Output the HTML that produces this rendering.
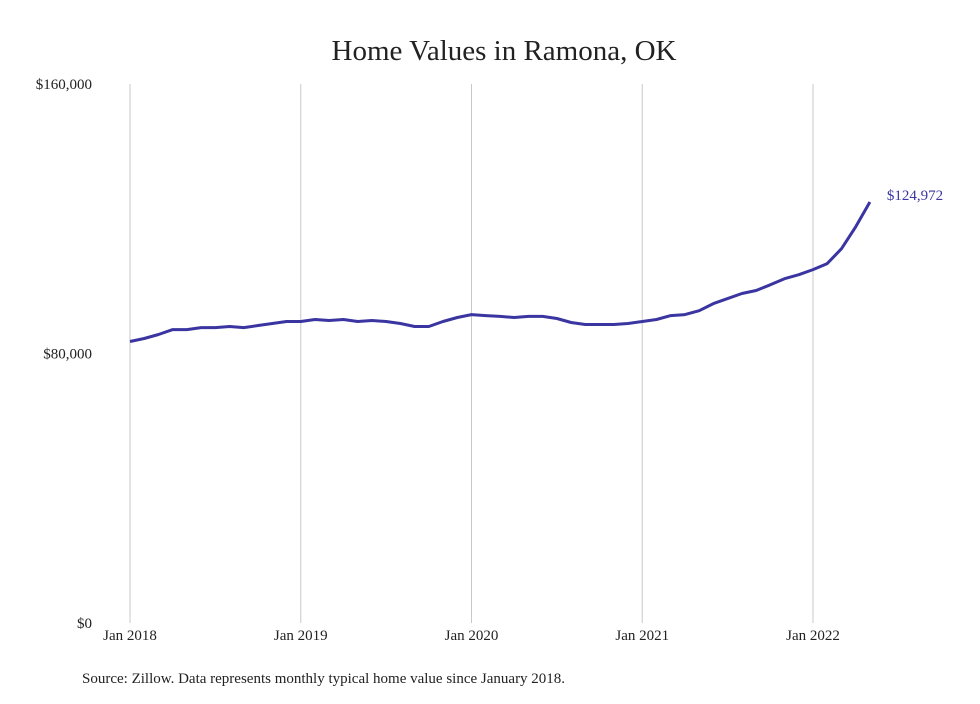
<!DOCTYPE html>
<html><head><meta charset="utf-8"><style>
html,body{margin:0;padding:0;background:#fff;}
body{width:980px;height:699px;overflow:hidden;font-family:"Liberation Serif",serif;}
</style></head><body>
<svg width="980" height="699" xmlns="http://www.w3.org/2000/svg">
<text x="504" y="60" text-anchor="middle" font-size="29" fill="#222" font-family="Liberation Serif, serif">Home Values in Ramona, OK</text>
<g id="grid"></g>
<g id="yt"></g>
<g id="xt"></g>
<path id="line" fill="none" stroke="#3a35a0" stroke-width="3" stroke-linejoin="round"/>
<text id="endlbl" font-size="15" fill="#3a35a0" font-family="Liberation Serif, serif"></text>
<text x="82" y="683" font-size="15" fill="#222" font-family="Liberation Serif, serif">Source: Zillow. Data represents monthly typical home value since January 2018.</text>
</svg>
<script>
const values=[83556,84444,85630,87100,87100,87700,87700,88000,87700,88300,88900,89500,89500,90100,89800,90100,89500,89800,89500,88900,88000,88000,89500,90700,91550,91250,91000,90700,91000,91000,90400,89200,88600,88600,88600,88900,89500,90100,91250,91550,92700,94800,96300,97800,98700,100400,102200,103400,104900,106700,111100,117600,124972];
const yTicks=[0,80000,160000];
const yTickLabels=["$0","$80,000","$160,000"];
const xTickMonths=[0,12,24,36,48];
const xTickLabels=["Jan 2018","Jan 2019","Jan 2020","Jan 2021","Jan 2022"];
const NS="http://www.w3.org/2000/svg";
const x=m=>130+m*(170.75/12);
const y=v=>623-v/160000*539;
const svg=document.querySelector('svg');
const grid=document.getElementById('grid'),yt=document.getElementById('yt'),xt=document.getElementById('xt');
xTickMonths.forEach((m,i)=>{
  const l=document.createElementNS(NS,'line');
  
  
  l.setAttribute('x1',x(m));l.setAttribute('x2',x(m));l.setAttribute('y1',84);l.setAttribute('y2',623);
  l.setAttribute('stroke','#c8c8c8');l.setAttribute('stroke-width','1');
  grid.appendChild(l);
  const t=document.createElementNS(NS,'text');
  
  
  t.setAttribute('x',x(m));t.setAttribute('y',640);t.setAttribute('text-anchor','middle');
  t.setAttribute('font-size','15');t.setAttribute('fill','#222');
  t.textContent=xTickLabels[i];xt.appendChild(t);
});
yTicks.forEach((v,i)=>{
  const t=document.createElementNS(NS,'text');
  
  
  t.setAttribute('x',92);t.setAttribute('y',y(v)+5);t.setAttribute('text-anchor','end');
  t.setAttribute('font-size','15');t.setAttribute('fill','#222');
  t.textContent=yTickLabels[i];yt.appendChild(t);
});
document.getElementById('line').setAttribute('d',values.map((v,i)=>(i?'L':'M')+x(i).toFixed(1)+','+y(v).toFixed(1)).join(' '));
const last=values.length-1;
const el=document.getElementById('endlbl');
el.setAttribute('x',x(last)+17);el.setAttribute('y',y(values[last])-2);
el.textContent='$'+values[last].toLocaleString('en-US');
</script>
</body></html>
